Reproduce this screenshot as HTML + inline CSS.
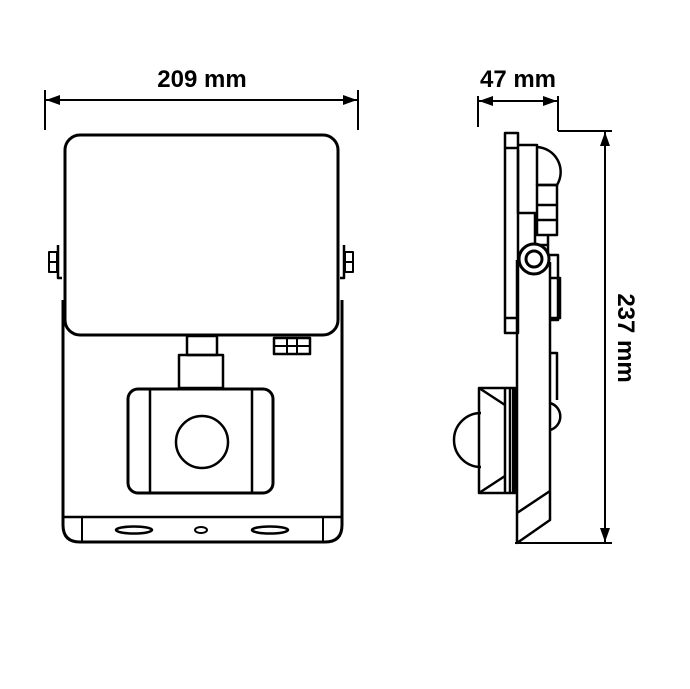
<!DOCTYPE html>
<html><head><style>html,body{margin:0;padding:0;background:#fff}</style></head><body>
<svg width="690" height="684" viewBox="0 0 690 684" xmlns="http://www.w3.org/2000/svg" fill="none" stroke="#000" stroke-linejoin="round">
<defs><marker id="a" markerWidth="14" markerHeight="10" refX="14" refY="5" orient="auto-start-reverse" markerUnits="userSpaceOnUse"><path d="M0,0 L14,5 L0,10 Z" fill="#000" stroke="none"/></marker></defs>
<g stroke-width="2">
<line x1="45" y1="90" x2="45" y2="130"/><line x1="358" y1="90" x2="358" y2="130"/>
<line x1="46" y1="100" x2="357" y2="100" marker-start="url(#a)" marker-end="url(#a)"/>
<line x1="478" y1="96" x2="478" y2="127"/><line x1="558" y1="96" x2="558" y2="131"/>
<line x1="479" y1="101" x2="557" y2="101" marker-start="url(#a)" marker-end="url(#a)"/>
<line x1="558" y1="131" x2="612" y2="131"/><line x1="515" y1="543" x2="612" y2="543"/>
<line x1="605" y1="132" x2="605" y2="542" marker-start="url(#a)" marker-end="url(#a)"/>
</g>
<g font-family="Liberation Sans, sans-serif" font-weight="bold" font-size="24" fill="#000" stroke="none">
<text x="202" y="87" text-anchor="middle">209 mm</text>
<text x="518" y="87" text-anchor="middle">47 mm</text>
<text transform="translate(618,338) rotate(90)" text-anchor="middle">237 mm</text>
</g>
<!-- front view -->
<g stroke-width="3">
<path d="M63,300 V525 Q63,542 80,542 H325 Q342,542 342,525 V300"/>
<line x1="64" y1="517" x2="341" y2="517" stroke-width="2.5"/>
<line x1="82" y1="517" x2="82" y2="541" stroke-width="2"/>
<line x1="323" y1="517" x2="323" y2="541" stroke-width="2"/>
<rect x="65" y="135" width="273" height="200" rx="15" fill="#fff"/>
<rect x="49" y="252" width="8" height="20" stroke-width="2"/>
<line x1="50" y1="262" x2="56" y2="262" stroke-width="2"/>
<path d="M58,245 V278 H62" stroke-width="2.5"/>
<rect x="345" y="252" width="8" height="20" stroke-width="2"/>
<line x1="346" y1="262" x2="352" y2="262" stroke-width="2"/>
<path d="M344,245 V278 H340" stroke-width="2.5"/>
<rect x="187" y="336" width="30" height="19" stroke-width="2.5"/>
<rect x="179" y="355" width="44" height="33" stroke-width="2.5"/>
<rect x="128" y="389" width="145" height="104" rx="10"/>
<line x1="150" y1="389" x2="150" y2="493" stroke-width="2.5"/>
<line x1="252" y1="389" x2="252" y2="493" stroke-width="2.5"/>
<circle cx="202" cy="442" r="26" stroke-width="2.5"/>
<rect x="274" y="338" width="36" height="16" stroke-width="2.5"/>
<line x1="287" y1="338" x2="287" y2="354" stroke-width="2"/><line x1="297" y1="338" x2="297" y2="354" stroke-width="2"/>
<line x1="274" y1="346" x2="310" y2="346" stroke-width="2"/>
<ellipse cx="134" cy="530" rx="18" ry="3.5" stroke-width="2.5"/>
<ellipse cx="201" cy="530" rx="6" ry="3" stroke-width="2"/>
<ellipse cx="270" cy="530" rx="18" ry="3.5" stroke-width="2.5"/>
</g>
<!-- side view -->
<g stroke-width="2.5">
<rect x="505" y="133" width="13" height="200"/>
<line x1="505" y1="148" x2="518" y2="148"/><line x1="505" y1="318" x2="518" y2="318"/>
<path d="M518,145 H537 V185 M518,150 V213 H535 V245 H548"/>
<path d="M537,147 A25,25 0 0 1 557,185 H537"/>
<rect x="537" y="185" width="20" height="50"/>
<line x1="537" y1="205" x2="557" y2="205"/><line x1="537" y1="220" x2="557" y2="220"/>
<path d="M548,235 V255 H558 V320 H550"/>
<path d="M550,278 H560 V318 H550"/>
<path d="M517,260 V543 L550,520 V262"/>
<line x1="517" y1="513" x2="550" y2="491"/>
<circle cx="534" cy="259" r="15" fill="#fff" stroke-width="3"/>
<circle cx="534" cy="259" r="8" stroke-width="3"/>
<path d="M550,353 H557 V400 M550,403 A14,14 0 0 1 550,430"/>
<rect x="479" y="388" width="36" height="105"/>
<line x1="505" y1="388" x2="505" y2="493"/><line x1="510" y1="388" x2="510" y2="493"/>
<line x1="479" y1="388" x2="505" y2="405"/><line x1="479" y1="493" x2="505" y2="476"/>
<line x1="514" y1="388" x2="514" y2="493" stroke-width="4"/>
<path d="M481,413 A27,27 0 0 0 481,467"/>
</g>
</svg>
</body></html>
